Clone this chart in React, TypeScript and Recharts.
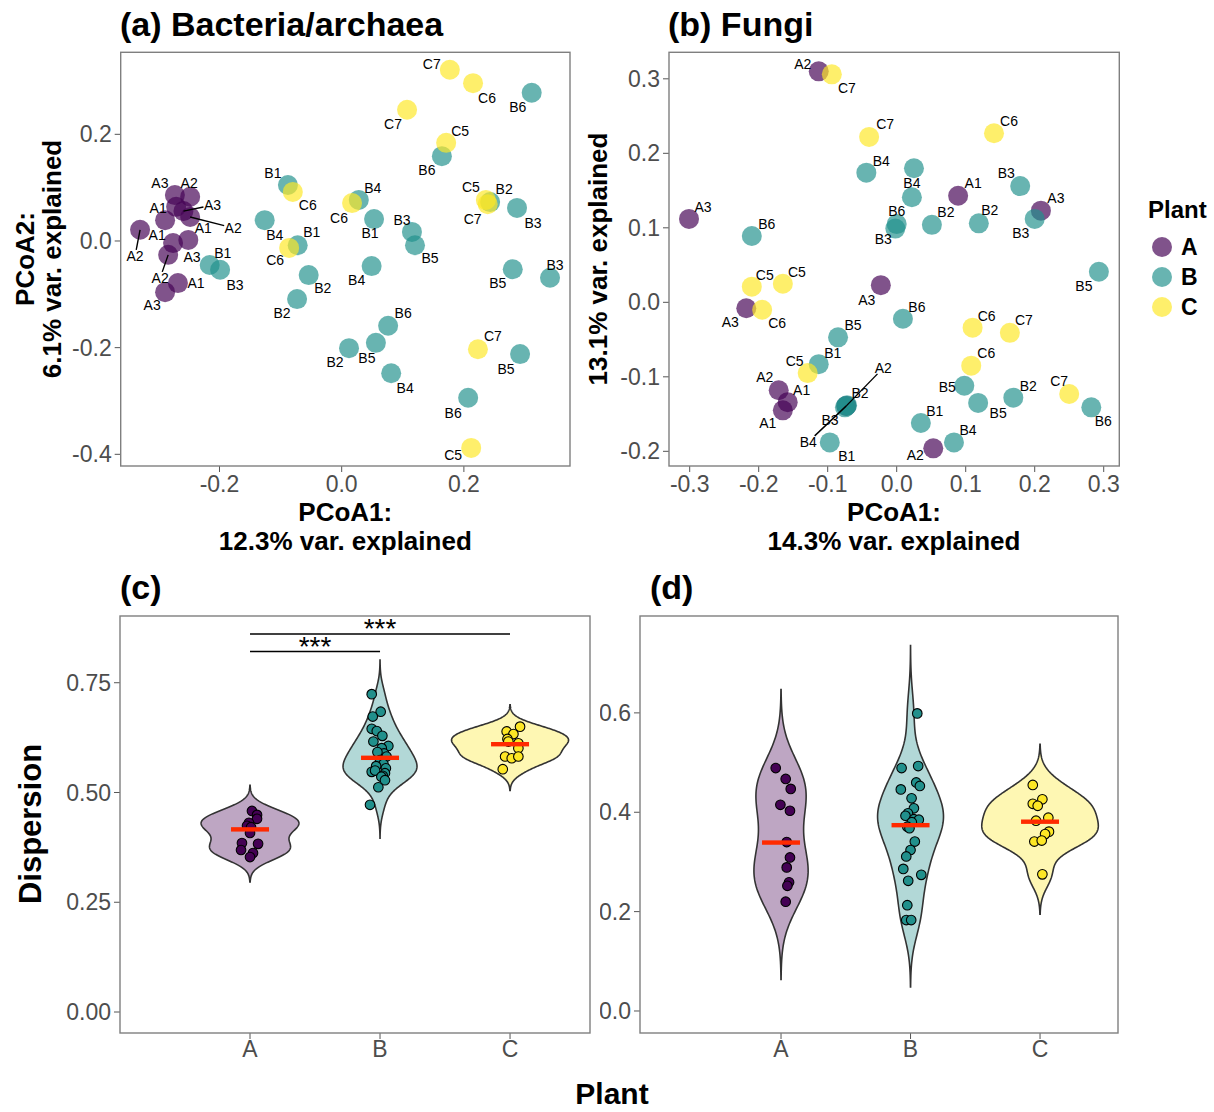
import React from 'react';
import { ScatterChart, Scatter, XAxis, YAxis, ReferenceLine } from 'recharts';

const FONT = '"Liberation Sans", Arial, Helvetica, sans-serif';

// ---------- categories ----------
const plants = ['A', 'B', 'C'];
const plantColors = ['#440154', '#21908C', '#FDE725'];

type Pt = [number, number, string];
type Nudge = [number, number, number?];

// ---------- (a) Bacteria/archaea PCoA: [PCoA1, PCoA2, sample] ----------
const bactA: Pt[] = [
  [-0.273, 0.086, 'A3'], [-0.248, 0.083, 'A2'], [-0.289, 0.039, 'A1'], [-0.271, 0.064, 'A1'],
  [-0.259, 0.056, 'A3'], [-0.248, 0.045, 'A2'], [-0.330, 0.021, 'A2'], [-0.276, -0.004, 'A3'],
  [-0.251, 0.002, 'A1'], [-0.284, -0.026, 'A2'], [-0.268, -0.079, 'A1'], [-0.289, -0.096, 'A3'],
];
const bactB: Pt[] = [
  [-0.088, 0.105, 'B1'], [-0.072, -0.008, 'B1'], [0.053, 0.041, 'B1'], [-0.216, -0.045, 'B1'],
  [-0.054, -0.064, 'B2'], [-0.073, -0.109, 'B2'], [0.012, -0.201, 'B2'], [0.243, 0.073, 'B2'],
  [0.115, 0.017, 'B3'], [0.287, 0.062, 'B3'], [0.341, -0.069, 'B3'], [-0.199, -0.054, 'B3'],
  [-0.126, 0.039, 'B4'], [0.028, 0.077, 'B4'], [0.049, -0.047, 'B4'], [0.081, -0.248, 'B4'],
  [0.120, -0.008, 'B5'], [0.056, -0.191, 'B5'], [0.280, -0.053, 'B5'], [0.292, -0.212, 'B5'],
  [0.076, -0.159, 'B6'], [0.311, 0.278, 'B6'], [0.164, 0.159, 'B6'], [0.207, -0.294, 'B6'],
];
const bactC: Pt[] = [
  [0.171, 0.184, 'C5'], [0.236, 0.077, 'C5'], [0.212, -0.388, 'C5'],
  [-0.080, 0.092, 'C6'], [-0.086, -0.013, 'C6'], [0.017, 0.071, 'C6'], [0.215, 0.296, 'C6'],
  [0.177, 0.321, 'C7'], [0.107, 0.246, 'C7'], [0.239, 0.069, 'C7'], [0.223, -0.203, 'C7'],
];

// ---------- (b) Fungi PCoA ----------
const fungA: Pt[] = [
  [-0.113, 0.310, 'A2'], [-0.301, 0.112, 'A3'], [-0.218, -0.008, 'A3'], [-0.023, 0.023, 'A3'],
  [-0.171, -0.118, 'A2'], [-0.158, -0.134, 'A1'], [-0.165, -0.145, 'A1'], [-0.073, -0.139, 'A2'],
  [0.089, 0.143, 'A1'], [0.209, 0.123, 'A3'], [0.053, -0.196, 'A2'],
];
const fungB: Pt[] = [
  [-0.113, -0.083, 'B1'], [-0.097, -0.188, 'B1'], [0.035, -0.162, 'B1'], [0.025, 0.180, ''],
  [-0.072, -0.138, 'B2'], [0.051, 0.104, 'B2'], [0.119, 0.106, 'B2'], [0.169, -0.128, 'B2'],
  [-0.075, -0.141, 'B3'], [0.179, 0.156, 'B3'], [0.200, 0.112, 'B3'], [-0.002, 0.099, 'B3'],
  [-0.044, 0.174, 'B4'], [0.022, 0.141, 'B4'], [-0.073, -0.139, 'B4'], [0.083, -0.188, 'B4'],
  [-0.085, -0.047, 'B5'], [0.098, -0.112, 'B5'], [0.118, -0.135, 'B5'], [0.293, 0.041, 'B5'],
  [-0.210, 0.089, 'B6'], [0.000, 0.105, 'B6'], [0.009, -0.022, 'B6'], [0.282, -0.141, 'B6'],
];
const fungC: Pt[] = [
  [-0.094, 0.306, 'C7'], [-0.040, 0.222, 'C7'], [0.141, 0.227, 'C6'], [-0.210, 0.021, 'C5'],
  [-0.165, 0.025, 'C5'], [-0.195, -0.010, 'C6'], [-0.129, -0.095, 'C5'], [0.110, -0.034, 'C6'],
  [0.164, -0.041, 'C7'], [0.108, -0.085, 'C6'], [0.250, -0.123, 'C7'],
];

// ---------- label placement (layout, px offsets from point; third = leader segment) ----------
const bactNudgeA: Nudge[] = [[-15, -12], [-1, -14], [-8, 15], [-18, 1], [29, -6, 1], [43, 11, 1], [-5, 26, 1], [19, 14], [15, -12], [-8, 23, 1], [18, 0], [-13, 13]];
const bactNudgeB: Nudge[] = [[-15, -12], [14, -13], [-4, 14], [13, -12], [14, 13], [-15, 14], [-14, 14], [14, -13], [-10, -12], [16, 15], [5, -13], [15, 15], [10, 15], [14, -12], [-15, 14], [14, 15], [15, 13], [-9, 15], [-15, 14], [-14, 15], [15, -13], [-14, 14], [-15, 14], [-15, 15]];
const bactNudgeC: Nudge[] = [[14, -12], [-15, -13], [-18, 7], [15, 13], [-14, 12], [-13, 15], [14, 15], [-18, -6], [-14, 14], [-15, 15], [15, -13]];
const fungNudgeA: Nudge[] = [[-16, -7], [14, -12], [-16, 14], [-14, 15], [-14, -13], [14, -12], [-15, 13], [37, -38, 1], [15, -13], [15, -13], [-18, 7]];
const fungNudgeB: Nudge[] = [[14, -11], [17, 14], [14, -12], [0, 0], [13, -12], [14, -13], [11, -13], [15, -12], [-15, 13], [-14, -13], [-14, 14], [-12, 10], [15, -12], [0, -14], [-38, 36, 1], [14, -12], [15, -12], [-17, 1], [20, 10], [-15, 14], [15, -12], [0, -13], [14, -12], [12, 14]];
const fungNudgeC: Nudge[] = [[15, 14], [16, -13], [15, -12], [13, -12], [14, -12], [15, 13], [-13, -12], [14, -12], [14, -13], [15, -13], [-10, -13]];

// ---------- (c) bacteria dispersion: [jitter, dispersion] ----------
const dispBactA: [number, number][] = [
  [0.015, 0.458], [0.054, 0.449], [0.054, 0.440], [-0.008, 0.431], [-0.023, 0.424], [0.008, 0.421],
  [0.000, 0.408], [-0.062, 0.385], [0.062, 0.383], [-0.069, 0.369], [0.023, 0.362], [0.000, 0.353],
];
const dispBactB: [number, number][] = [
  [-0.064, 0.724], [0.005, 0.684], [-0.056, 0.673], [-0.064, 0.645], [-0.025, 0.640], [0.018, 0.629],
  [-0.051, 0.616], [0.064, 0.606], [0.013, 0.601], [0.031, 0.589], [-0.020, 0.592], [0.050, 0.582],
  [0.000, 0.574], [0.026, 0.565], [-0.030, 0.560], [0.045, 0.555], [-0.064, 0.547], [-0.038, 0.550],
  [0.038, 0.544], [0.021, 0.538], [0.010, 0.536], [0.038, 0.528], [-0.013, 0.512], [-0.077, 0.472],
];
const dispBactC: [number, number][] = [
  [0.077, 0.650], [-0.026, 0.639], [0.026, 0.633], [-0.020, 0.622], [-0.013, 0.616], [0.064, 0.612],
  [0.064, 0.601], [-0.038, 0.582], [0.013, 0.578], [0.064, 0.582], [-0.056, 0.553],
];
const meanBact = [0.416, 0.579, 0.610];
// significance brackets: [from plant, to plant, height, label]
const sigBact: [number, number, number, string][] = [[1, 2, 0.821, '***'], [1, 3, 0.861, '***']];

// ---------- (d) fungi dispersion ----------
const dispFungA: [number, number][] = [
  [-0.041, 0.489], [0.036, 0.467], [0.075, 0.447], [-0.005, 0.415], [0.069, 0.403], [0.044, 0.340],
  [0.069, 0.309], [0.044, 0.289], [0.062, 0.259], [0.049, 0.252], [0.036, 0.220],
];
const dispFungB: [number, number][] = [
  [0.052, 0.599], [-0.069, 0.489], [0.059, 0.493], [0.044, 0.460], [0.072, 0.453], [-0.075, 0.446],
  [0.008, 0.428], [0.026, 0.408], [-0.020, 0.398], [-0.039, 0.393], [0.026, 0.386], [0.064, 0.385],
  [0.010, 0.380], [-0.025, 0.371], [-0.008, 0.368], [0.033, 0.341], [0.000, 0.324], [-0.033, 0.311],
  [-0.056, 0.286], [0.083, 0.274], [-0.018, 0.262], [-0.025, 0.213], [-0.033, 0.183], [0.005, 0.183],
];
const dispFungC: [number, number][] = [
  [-0.056, 0.455], [0.018, 0.426], [-0.056, 0.417], [-0.018, 0.413], [-0.031, 0.383], [0.064, 0.389],
  [0.069, 0.361], [0.039, 0.356], [-0.044, 0.341], [0.013, 0.343], [0.018, 0.275],
];
const meanFung = [0.339, 0.374, 0.381];

// ---------- ticks ----------
const bactXTicks = [-0.2, 0, 0.2];
const bactYTicks = [-0.4, -0.2, 0, 0.2];
const fungXTicks = [-0.3, -0.2, -0.1, 0, 0.1, 0.2, 0.3];
const fungYTicks = [-0.2, -0.1, 0, 0.1, 0.2, 0.3];
const dispBactYTicks = [0, 0.25, 0.5, 0.75];
const dispFungYTicks = [0, 0.2, 0.4, 0.6];
const plantTicks = [1, 2, 3];

// ---------- helpers ----------
function bwNrd0(v: number[]) {
  const n = v.length;
  const mean = v.reduce((a, b) => a + b, 0) / n;
  const sd = Math.sqrt(v.reduce((a, b) => a + (b - mean) ** 2, 0) / (n - 1));
  const s = [...v].sort((a, b) => a - b);
  const q = (p: number) => {
    const h = (n - 1) * p;
    const lo = Math.floor(h);
    const hi = Math.ceil(h);
    return s[lo] + (h - lo) * (s[hi] - s[lo]);
  };
  const iqr = q(0.75) - q(0.25);
  let lo = Math.min(sd, iqr / 1.34);
  if (!lo) lo = sd || 1;
  return 0.9 * lo * Math.pow(n, -0.2);
}

function kde(v: number[], m = 200) {
  const bw = bwNrd0(v);
  const lo = Math.min(...v) - 3 * bw;
  const hi = Math.max(...v) + 3 * bw;
  const ys: number[] = [];
  const ds: number[] = [];
  for (let i = 0; i < m; i++) {
    const y = lo + ((hi - lo) * i) / (m - 1);
    let d = 0;
    for (const x of v) d += Math.exp(-0.5 * ((y - x) / bw) ** 2);
    ys.push(y);
    ds.push(d / (v.length * bw * Math.sqrt(2 * Math.PI)));
  }
  return { ys, ds };
}

const LabelShape = (props: any) => {
  const { cx, cy, payload } = props;
  if (!payload || !payload.sample) return <g />;
  const lx = cx + payload.dx;
  const ly = cy + payload.dy;
  let seg: React.ReactNode = null;
  if (payload.seg) {
    const adx = Math.abs(payload.dx) || 1e-6;
    const ady = Math.abs(payload.dy) || 1e-6;
    const t = Math.min(9 / adx, 6 / ady);
    seg = <line x1={cx} y1={cy} x2={lx - payload.dx * t} y2={ly - payload.dy * t} stroke="#000" strokeWidth={1.4} />;
  }
  return (
    <g>
      {seg}
      <text x={lx} y={ly} textAnchor="middle" dominantBaseline="central" fontSize={14} fontFamily={FONT} fill="#000">
        {payload.sample}
      </text>
    </g>
  );
};

const tickStyle = { fill: '#4d4d4d', fontSize: 23, fontFamily: FONT };

function PcoaPanel(props: {
  left: number; top: number; width: number; height: number;
  margin: { top: number; right: number; bottom: number; left: number };
  yAxisWidth: number; xDomain: [number, number]; yDomain: [number, number];
  xTicks: number[]; yTicks: number[]; groups: Pt[][]; nudges: Nudge[][];
}) {
  const { groups, nudges } = props;
  const labelRows: any[] = [];
  groups.forEach((g, gi) =>
    g.forEach((p, i) => {
      const n = nudges[gi][i];
      labelRows.push({ x: p[0], y: p[1], sample: p[2], dx: n[0], dy: n[1], seg: n[2] || 0 });
    })
  );
  return (
    <div style={{ position: 'absolute', left: props.left, top: props.top }}>
      <ScatterChart width={props.width} height={props.height} margin={props.margin}>
        <XAxis type="number" dataKey="x" domain={props.xDomain} allowDataOverflow ticks={props.xTicks} interval={0}
          tickFormatter={(v: number) => v.toFixed(1)} axisLine={false} tickLine={{ stroke: '#555' }} tickSize={6}
          tickMargin={4} height={40} tick={tickStyle} />
        <YAxis type="number" dataKey="y" domain={props.yDomain} allowDataOverflow ticks={props.yTicks} interval={0}
          tickFormatter={(v: number) => v.toFixed(1)} axisLine={false} tickLine={{ stroke: '#555' }} tickSize={6}
          tickMargin={3} width={props.yAxisWidth} tick={tickStyle} />
        {groups.map((g, gi) => (
          <Scatter key={'g' + gi} data={g.map(([x, y, s]) => ({ x, y, sample: s }))} isAnimationActive={false}
            shape={(p: any) => <circle cx={p.cx} cy={p.cy} r={10} fill={plantColors[gi]} fillOpacity={0.68} />} />
        ))}
        <Scatter data={labelRows} isAnimationActive={false} shape={LabelShape} />
      </ScatterChart>
    </div>
  );
}

function DispersionPanel(props: {
  left: number; top: number; width: number; height: number;
  margin: { top: number; right: number; bottom: number; left: number };
  yAxisWidth: number; xDomain: [number, number]; yDomain: [number, number];
  yTicks: number[]; yDigits: number; groups: [number, number][][]; means: number[];
  sig?: [number, number, number, string][];
}) {
  const { groups, means, sig } = props;
  const kdes = groups.map((g) => kde(g.map((p) => p[1])));
  const maxD = Math.max(...kdes.map((k) => Math.max(...k.ds)));
  const violins = kdes.map((k, gi) => {
    const pos = gi + 1;
    const right = k.ys.map((y, j) => ({ x: pos + (0.45 * k.ds[j]) / maxD, y }));
    const left = k.ys.map((y, j) => ({ x: pos - (0.45 * k.ds[j]) / maxD, y })).reverse();
    return [...right, ...left];
  });
  return (
    <div style={{ position: 'absolute', left: props.left, top: props.top }}>
      <ScatterChart width={props.width} height={props.height} margin={props.margin}>
        <XAxis type="number" dataKey="x" domain={props.xDomain} allowDataOverflow ticks={plantTicks} interval={0}
          tickFormatter={(v: number) => plants[v - 1]} axisLine={false} tickLine={{ stroke: '#555' }} tickSize={6}
          tickMargin={2} height={40} tick={tickStyle} />
        <YAxis type="number" dataKey="y" domain={props.yDomain} allowDataOverflow ticks={props.yTicks} interval={0}
          tickFormatter={(v: number) => v.toFixed(props.yDigits)} axisLine={false} tickLine={{ stroke: '#555' }} tickSize={6}
          tickMargin={3} width={props.yAxisWidth} tick={tickStyle} />
        {violins.map((rows, gi) => (
          <Scatter key={'v' + gi} data={rows} isAnimationActive={false} shape={() => <g />}
            line={{ stroke: '#333333', strokeWidth: 1.6, fill: plantColors[gi], fillOpacity: 0.35 }} />
        ))}
        {groups.map((g, gi) => (
          <Scatter key={'p' + gi} data={g.map(([j, v]) => ({ x: gi + 1 + j, y: v }))} isAnimationActive={false}
            shape={(p: any) => <circle cx={p.cx} cy={p.cy} r={4.8} fill={plantColors[gi]} stroke="#000" strokeWidth={1.1} />} />
        ))}
        <Scatter data={means.map((m, i) => ({ x: i + 1, y: m }))} isAnimationActive={false}
          shape={(p: any) => <rect x={p.cx - 19} y={p.cy - 2.2} width={38} height={4.4} fill="#ff2a00" />} />
        {sig && sig.map((s, i) => (
          <ReferenceLine key={'s' + i} segment={[{ x: s[0], y: s[2] }, { x: s[1], y: s[2] }]} stroke="#000" strokeWidth={1.4} ifOverflow="visible" />
        ))}
        {sig && (
          <Scatter data={sig.map((s) => ({ x: (s[0] + s[1]) / 2, y: s[2], t: s[3] }))} isAnimationActive={false}
            shape={(p: any) => (
              <text x={p.cx} y={p.cy + 4} textAnchor="middle" fontSize={28} fontFamily={FONT} fill="#000">{p.payload.t}</text>
            )} />
        )}
      </ScatterChart>
    </div>
  );
}

export default function App() {
  const bold = { fontWeight: 'bold' as const, fill: '#000' };
  return (
    <div style={{ position: 'absolute', left: 0, top: 0, width: 1214, height: 1112, background: '#fff', fontFamily: FONT }}>
      <PcoaPanel left={0} top={0} width={600} height={520}
        margin={{ top: 52.3, right: 30, bottom: 14, left: 60.7 }} yAxisWidth={60}
        xDomain={[-0.3617, 0.3737]} yDomain={[-0.4219, 0.3538]} xTicks={bactXTicks} yTicks={bactYTicks}
        groups={[bactA, bactB, bactC]} nudges={[bactNudgeA, bactNudgeB, bactNudgeC]} />
      <PcoaPanel left={610} top={0} width={530} height={520}
        margin={{ top: 52.3, right: 20.7, bottom: 14, left: 9 }} yAxisWidth={50}
        xDomain={[-0.330, 0.3226]} yDomain={[-0.2197, 0.3356]} xTicks={fungXTicks} yTicks={fungYTicks}
        groups={[fungA, fungB, fungC]} nudges={[fungNudgeA, fungNudgeB, fungNudgeC]} />
      <DispersionPanel left={0} top={560} width={600} height={520}
        margin={{ top: 56, right: 10, bottom: 7, left: 60 }} yAxisWidth={60}
        xDomain={[0, 3.615]} yDomain={[-0.0478, 0.902]} yTicks={dispBactYTicks} yDigits={2}
        groups={[dispBactA, dispBactB, dispBactC]} means={meanBact} sig={sigBact} />
      <DispersionPanel left={600} top={560} width={540} height={520}
        margin={{ top: 56, right: 22, bottom: 7, left: 0 }} yAxisWidth={40}
        xDomain={[-0.089, 3.602]} yDomain={[-0.0443, 0.795]} yTicks={dispFungYTicks} yDigits={1}
        groups={[dispFungA, dispFungB, dispFungC]} means={meanFung} />

      <svg width={1214} height={1112} style={{ position: 'absolute', left: 0, top: 0, pointerEvents: 'none' }} fontFamily={FONT}>
        <rect x={120.7} y={52.3} width={449.3} height={413.7} fill="none" stroke="#7f7f7f" strokeWidth={1.4} />
        <rect x={669} y={52.3} width={450.3} height={413.7} fill="none" stroke="#7f7f7f" strokeWidth={1.4} />
        <rect x={120} y={616} width={470} height={417} fill="none" stroke="#7f7f7f" strokeWidth={1.4} />
        <rect x={640} y={616} width={478} height={417} fill="none" stroke="#7f7f7f" strokeWidth={1.4} />

        <text x={120} y={36} fontSize={34} {...bold}>(a) Bacteria/archaea</text>
        <text x={668} y={36} fontSize={34} {...bold}>(b) Fungi</text>
        <text x={120} y={599} fontSize={34} {...bold}>(c)</text>
        <text x={650} y={599} fontSize={34} {...bold}>(d)</text>

        <text x={345.3} y={521} textAnchor="middle" fontSize={26} {...bold}>PCoA1:</text>
        <text x={345.3} y={550} textAnchor="middle" fontSize={26} {...bold}>12.3% var. explained</text>
        <text x={894} y={521} textAnchor="middle" fontSize={26} {...bold}>PCoA1:</text>
        <text x={894} y={550} textAnchor="middle" fontSize={26} {...bold}>14.3% var. explained</text>

        <text transform="translate(34,259) rotate(-90)" textAnchor="middle" fontSize={26} {...bold}>PCoA2:</text>
        <text transform="translate(61,259) rotate(-90)" textAnchor="middle" fontSize={26} {...bold}>6.1% var. explained</text>
        <text transform="translate(607,259) rotate(-90)" textAnchor="middle" fontSize={26} {...bold}>13.1% var. explained</text>

        <text transform="translate(41,824) rotate(-90)" textAnchor="middle" fontSize={31} {...bold}>Dispersion</text>
        <text x={612} y={1104} textAnchor="middle" fontSize={30} {...bold}>Plant</text>

        <text x={1148} y={218} fontSize={24} {...bold}>Plant</text>
        {plants.map((p, i) => (
          <g key={p}>
            <circle cx={1162} cy={247 + i * 30} r={10} fill={plantColors[i]} fillOpacity={0.68} />
            <text x={1181} y={255 + i * 30} fontSize={23} {...bold}>{p}</text>
          </g>
        ))}
      </svg>
    </div>
  );
}
